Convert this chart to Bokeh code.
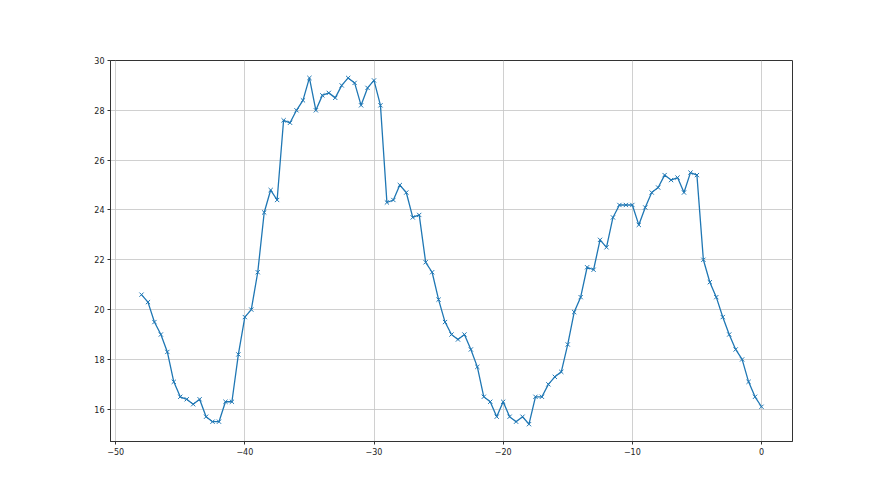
from bokeh.plotting import figure
from bokeh.models import Range1d, FixedTicker
from bokeh.embed import file_html
from bokeh.resources import INLINE

x_vals = [-48 + 0.5 * i for i in range(97)]
y_vals = [20.6, 20.3, 19.5, 19.0, 18.3, 17.1, 16.5, 16.4, 16.2, 16.4,
          15.7, 15.5, 15.5, 16.3, 16.3, 18.2, 19.7, 20.0, 21.5, 23.9,
          24.8, 24.4, 27.6, 27.5, 28.0, 28.4, 29.3, 28.0, 28.6, 28.7,
          28.5, 29.0, 29.3, 29.1, 28.2, 28.9, 29.2, 28.2, 24.3, 24.4,
          25.0, 24.7, 23.7, 23.8, 21.9, 21.5, 20.4, 19.5, 19.0, 18.8,
          19.0, 18.4, 17.7, 16.5, 16.3, 15.7, 16.3, 15.7, 15.5, 15.7,
          15.4, 16.5, 16.5, 17.0, 17.3, 17.5, 18.6, 19.9, 20.5, 21.7,
          21.6, 22.8, 22.5, 23.7, 24.2, 24.2, 24.2, 23.4, 24.1, 24.7,
          24.9, 25.4, 25.2, 25.3, 24.7, 25.5, 25.4, 22.0, 21.1, 20.5,
          19.7, 19.0, 18.4, 18.0, 17.1, 16.5, 16.1]
x_ticks = [-50, -40, -30, -20, -10, 0]
y_ticks = [16, 18, 20, 22, 24, 26, 28, 30]

p = figure(width=872, height=470, output_backend="svg", toolbar_location=None,
           x_range=Range1d(-50.4, 2.4), y_range=Range1d(14.705, 30.0),
           min_border_left=110, min_border_right=80, min_border_top=60,
           min_border_bottom=29)
p.frame_width = 682
p.frame_height = 381

p.line(x_vals, y_vals, line_color="#1f77b4", line_width=1.3)
p.scatter(x_vals, y_vals, marker="x", size=6, line_color="#1f77b4", line_width=1)

p.outline_line_color = "#333333"
p.outline_line_width = 1
p.outline_line_alpha = 1

for ax in (p.xaxis[0], p.yaxis[0]):
    ax.axis_line_color = "#333333"
    ax.major_tick_line_color = "#333333"
    ax.major_tick_out = 3
    ax.major_tick_in = 0
    ax.minor_tick_out = 0
    ax.minor_tick_in = 0
    ax.major_label_text_font = "DejaVu Sans"
    ax.major_label_text_font_size = "8px"
    ax.major_label_text_color = "#222222"
    ax.major_label_standoff = 3

p.xaxis[0].ticker = FixedTicker(ticks=x_ticks)
p.yaxis[0].ticker = FixedTicker(ticks=y_ticks)
p.xaxis[0].major_label_overrides = {t: ("\u2212" + str(abs(t)) if t < 0 else str(t)) for t in x_ticks}

p.xgrid.grid_line_color = "#c4c4c4"
p.ygrid.grid_line_color = "#c4c4c4"
p.xgrid.grid_line_width = 0.8
p.ygrid.grid_line_width = 0.8
p.xgrid.ticker = FixedTicker(ticks=x_ticks)
p.ygrid.ticker = FixedTicker(ticks=y_ticks)

p.background_fill_color = "white"
p.border_fill_color = "white"

open("out.html", "w").write(file_html(p, INLINE))
